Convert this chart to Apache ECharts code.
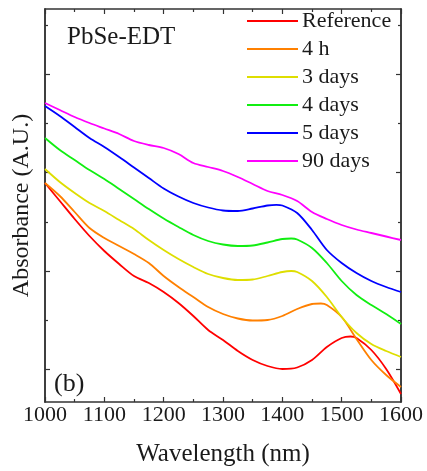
<!DOCTYPE html>
<html>
<head>
<meta charset="utf-8">
<script src="https://cdn.jsdelivr.net/npm/echarts@6/dist/echarts.min.js"></script>
<style>
html,body{margin:0;padding:0;background:#ffffff;}
#chart{width:427px;height:471px;}
</style>
</head>
<body>
<div id="chart"></div>
<script>
// ---- data (wavelength in nm, absorbance in arbitrary units) ----
const seriesNames = ['Reference', '4 h', '3 days', '4 days', '5 days', '90 days'];
const seriesColors = ['#ff0000', '#ff8000', '#dede00', '#11ee11', '#0000ff', '#ff00ff'];

const wlRef  = [1000, 1025, 1050, 1075, 1100, 1125, 1150, 1175, 1200, 1225, 1250, 1275, 1300, 1325, 1350, 1375, 1400, 1425, 1450, 1475, 1500, 1515, 1525, 1550, 1575, 1600];
const absRef = [186, 168, 150, 133, 118, 105, 93, 86, 77, 66, 53, 39, 29, 18, 9, 3, 0, 1.5, 9, 22, 31, 32.5, 31, 19, 0, -25];

const wl4h  = [1000, 1025, 1050, 1075, 1100, 1125, 1150, 1175, 1200, 1225, 1250, 1275, 1300, 1325, 1350, 1375, 1400, 1425, 1450, 1465, 1475, 1500, 1525, 1550, 1575, 1600];
const abs4h = [186, 173, 157, 141, 131, 123, 115, 106, 93, 82, 72, 62, 55, 50.5, 48.5, 49, 53, 60, 65, 65.5, 64, 52, 30, 9, -6, -18];

const wl3d  = [1000, 1025, 1050, 1075, 1100, 1125, 1150, 1175, 1200, 1225, 1250, 1275, 1300, 1325, 1350, 1375, 1400, 1415, 1425, 1450, 1475, 1500, 1525, 1550, 1575, 1600];
const abs3d = [200, 187, 176, 166, 158, 149, 140, 129, 119, 110, 102, 95, 91, 89, 89.5, 93, 97, 98, 97, 88, 72, 52, 36, 25, 18, 12];

const wl4d  = [1000, 1025, 1050, 1075, 1100, 1125, 1150, 1175, 1200, 1225, 1250, 1275, 1300, 1325, 1350, 1375, 1400, 1415, 1425, 1450, 1475, 1500, 1525, 1550, 1575, 1600];
const abs4d = [231, 219, 209, 199, 190, 180, 170, 160, 150.5, 142, 134, 128, 124.5, 123, 123.5, 126.5, 130, 130.5, 129.5, 121, 106, 88, 74, 64, 55, 45];

const wl5d  = [1000, 1025, 1050, 1075, 1100, 1125, 1150, 1175, 1200, 1225, 1250, 1275, 1300, 1325, 1350, 1375, 1390, 1400, 1425, 1450, 1475, 1500, 1525, 1550, 1575, 1600];
const abs5d = [263, 253, 242, 231, 222, 212, 201.5, 191, 180.5, 172.5, 166, 161.5, 158.5, 158, 160.5, 163.5, 164.2, 163.5, 156, 139, 119, 106, 96, 88, 82, 77];

const wl90d  = [1000, 1025, 1050, 1075, 1100, 1125, 1150, 1175, 1200, 1225, 1250, 1275, 1300, 1325, 1350, 1375, 1400, 1425, 1450, 1475, 1500, 1525, 1550, 1575, 1600];
const abs90d = [266, 259, 252, 246, 240.5, 235, 228, 224, 221, 215, 206, 202, 198, 192, 185, 178, 174, 168, 157, 150, 144, 139.5, 136, 132.5, 129];

const xTickLabels = ['1000', '1100', '1200', '1300', '1400', '1500', '1600'];
const yMajorTicks = [0, 98, 196.5, 295];
const yMinorTicks = [49, 147, 245.5, 344];

const wlSets = [wlRef, wl4h, wl3d, wl4d, wl5d, wl90d];
const absSets = [absRef, abs4h, abs3d, abs4d, abs5d, abs90d];

// ---- chart ----
const FONT = 'Liberation Serif';
const TXT = '#1a1a1a';
const AX = '#333333';
const X_MIN = 1000, X_MAX = 1600;
const Y_MIN = -33, Y_MAX = 360;

const chart = echarts.init(document.getElementById('chart'), null, {renderer: 'canvas'});

function yAx(position, ticks, len, showName) {
  return {
    type: 'value', position: position, min: Y_MIN, max: Y_MAX,
    name: showName ? 'Absorbance (A.U.)' : '',
    nameLocation: 'middle', nameGap: 11,
    nameTextStyle: {fontFamily: FONT, fontSize: 24, color: TXT},
    axisLine: {show: true, onZero: false, lineStyle: {color: AX, width: 1.5}},
    axisTick: {show: true, inside: true, length: len, customValues: ticks, lineStyle: {color: AX, width: 1.2}},
    axisLabel: {show: false},
    splitLine: {show: false}
  };
}

const series = seriesNames.map((name, i) => ({
  name: name,
  type: 'line',
  xAxisIndex: 0,
  yAxisIndex: 0,
  data: wlSets[i].map((w, j) => [w, absSets[i][j]]),
  smooth: 0.3,
  showSymbol: false,
  symbol: 'none',
  lineStyle: {color: seriesColors[i], width: 1.8},
  itemStyle: {color: seriesColors[i]},
  z: 2 + i
}));

chart.setOption({
  animation: false,
  backgroundColor: '#ffffff',
  title: [
    {text: 'PbSe-EDT', left: 67, top: 25, padding: 0,
     textStyle: {fontFamily: FONT, fontSize: 25, fontWeight: 'normal', color: TXT, lineHeight: 25}},
    {text: '(b)', left: 54, top: 371, padding: 0,
     textStyle: {fontFamily: FONT, fontSize: 26, fontWeight: 'normal', color: TXT, lineHeight: 26}}
  ],
  legend: {
    orient: 'vertical', left: 247, top: 10, padding: 0,
    itemWidth: 51, itemHeight: 2, itemGap: 6,
    icon: 'rect',
    data: seriesNames,
    textStyle: {fontFamily: FONT, fontSize: 22, color: TXT, lineHeight: 22, padding: [0, 0, 0, -1]}
  },
  grid: {left: 45, top: 9, width: 356, height: 393, containLabel: false, outerBoundsMode: 'none'},
  xAxis: [
    {
      type: 'value', position: 'bottom', min: X_MIN, max: X_MAX, interval: 100,
      name: 'Wavelength (nm)', nameLocation: 'middle', nameGap: 40,
      nameTextStyle: {fontFamily: FONT, fontSize: 25, color: TXT},
      axisLine: {show: true, onZero: false, lineStyle: {color: AX, width: 1.5}},
      axisTick: {show: true, inside: true, length: 5, lineStyle: {color: AX, width: 1.2}},
      minorTick: {show: true, splitNumber: 2, length: 3, lineStyle: {color: AX, width: 1.2}},
      axisLabel: {show: true, margin: 2, fontFamily: FONT, fontSize: 22, color: TXT,
                  formatter: function (v) { const s = String(v); return xTickLabels.indexOf(s) >= 0 ? s : ''; }},
      splitLine: {show: false}
    },
    {
      type: 'value', position: 'top', min: X_MIN, max: X_MAX, interval: 100,
      axisLine: {show: true, onZero: false, lineStyle: {color: AX, width: 1.5}},
      axisTick: {show: true, inside: true, length: 5, lineStyle: {color: AX, width: 1.2}},
      minorTick: {show: true, splitNumber: 2, length: 3, lineStyle: {color: AX, width: 1.2}},
      axisLabel: {show: false},
      splitLine: {show: false}
    }
  ],
  yAxis: [
    yAx('left', yMajorTicks, 5, true),
    yAx('left', yMinorTicks, 3, false),
    yAx('right', yMajorTicks, 5, false),
    yAx('right', yMinorTicks, 3, false)
  ],
  series: series
});
</script>
</body>
</html>
